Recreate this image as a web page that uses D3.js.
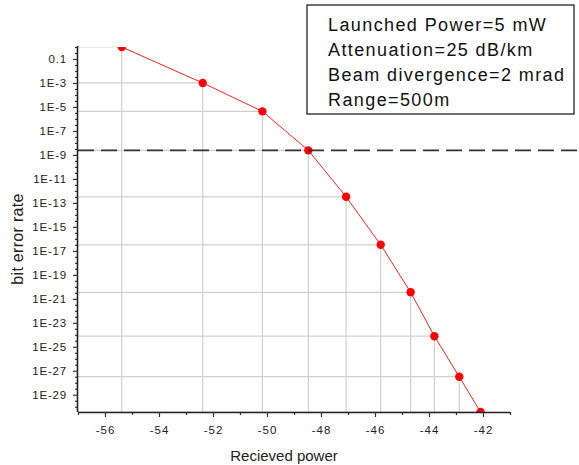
<!DOCTYPE html>
<html><head><meta charset="utf-8">
<script src="https://cdn.jsdelivr.net/npm/d3@7"></script>
<style>body{margin:0;background:#fff}svg{display:block}text{font-family:"Liberation Sans",Arial,sans-serif}</style>
</head><body>
<svg id="c" width="579" height="465"></svg>
<script>
const receivedPower = [-55.38, -52.38, -50.17, -48.47, -47.07, -45.79, -44.68, -43.8, -42.88, -42.09];
const bitErrorRate = [1, 1e-3, 4.3e-6, 2.4e-9, 3.2e-13, 3.2e-17, 3.5e-21, 7.6e-25, 3.2e-28, 3.6e-31];
const thresholdBER = 2.4e-9;
const xTickValues = [-56, -54, -52, -50, -48, -46, -44, -42];
const yTickExponents = [-1, -3, -5, -7, -9, -11, -13, -15, -17, -19, -21, -23, -25, -27, -29];
const legendLines = ["Launched Power=5 mW", "Attenuation=25 dB/km", "Beam divergence=2 mrad", "Range=500m"];
const xTitle = "Recieved power", yTitle = "bit error rate";

const svg = d3.select("#c");
const L = 78, R = 510, T = 47, B = 412;
const x = d3.scaleLinear().domain([-57, -41]).range([L, R]);
const y = d3.scaleLog().domain([1, Math.pow(10, -30.44)]).range([T, B]);

svg.append("defs").append("clipPath").attr("id", "clip")
  .append("rect").attr("x", L).attr("y", T).attr("width", R - L).attr("height", B - T);

const data = receivedPower.map((p, i) => ({p, b: bitErrorRate[i]}));

// drop lines
const g = svg.append("g").attr("clip-path", "url(#clip)");
g.selectAll(".hd").data(data).enter().append("line")
  .attr("x1", L).attr("x2", d => x(d.p)).attr("y1", d => y(d.b)).attr("y2", d => y(d.b))
  .attr("stroke", "#cfcfcf").attr("stroke-width", 1.2);
g.selectAll(".vd").data(data).enter().append("line")
  .attr("x1", d => x(d.p)).attr("x2", d => x(d.p)).attr("y1", d => y(d.b)).attr("y2", B)
  .attr("stroke", "#cfcfcf").attr("stroke-width", 1.2);

// threshold dashed line
svg.append("line").attr("x1", L).attr("x2", 579).attr("y1", y(thresholdBER)).attr("y2", y(thresholdBER))
  .attr("stroke", "#333").attr("stroke-width", 1.6).attr("stroke-dasharray", "16,7");

// x axis
const xMinor = d3.range(-57, -40, 1).filter(v => xTickValues.indexOf(v) < 0);
const xAx = svg.append("g").attr("transform", `translate(0,${B})`);
xAx.call(d3.axisBottom(x).tickValues(xMinor).tickSize(3).tickFormat(""));
xAx.call(g2 => g2.selectAll(".domain").remove());
const xAxMaj = svg.append("g").attr("transform", `translate(0,${B})`)
  .call(d3.axisBottom(x).tickValues(xTickValues).tickSize(5).tickPadding(9).tickFormat(d => d));
xAxMaj.select(".domain").attr("d", `M${L},0.5H${R}`).attr("stroke", "#222").attr("stroke-width", 1.6);
xAxMaj.selectAll(".tick text").attr("font-size", 11.5).attr("fill", "#222").attr("letter-spacing", "1px");

// y axis
const yMinorVals = d3.range(0, -30.5, -0.5).filter(e => yTickExponents.indexOf(e) < 0).map(e => Math.pow(10, e));
const yAx = svg.append("g").attr("transform", `translate(${L},0)`);
yAx.call(d3.axisLeft(y).tickValues(yMinorVals).tickSize(3).tickFormat(""));
yAx.select(".domain").remove();
const yAxMaj = svg.append("g").attr("transform", `translate(${L},0)`)
  .call(d3.axisLeft(y).tickValues(yTickExponents.map(e => Math.pow(10, e))).tickSize(5).tickPadding(6)
    .tickFormat(d => { const e = Math.round(Math.log10(d)); return e === -1 ? "0.1" : "1E" + e; }));
yAxMaj.select(".domain").attr("d", `M-0.5,${T - 1}V${B}`).attr("stroke", "#222").attr("stroke-width", 1.6);
yAxMaj.selectAll(".tick text").attr("font-size", 11.5).attr("fill", "#222").attr("letter-spacing", "0.8px");
svg.selectAll(".tick line").attr("stroke", "#333").attr("stroke-width", 1.2);

// line and markers
const line = d3.line().x(d => x(d.p)).y(d => y(d.b));
g.append("path").datum(data).attr("d", line).attr("fill", "none").attr("stroke", "#ff2020").attr("stroke-width", 1);
g.selectAll("circle").data(data).enter().append("circle")
  .attr("cx", d => x(d.p)).attr("cy", d => y(d.b)).attr("r", 4.2).attr("fill", "#ff0000");

// titles
svg.append("text").attr("x", 284).attr("y", 461).attr("text-anchor", "middle").attr("font-size", 15).attr("fill", "#222").text(xTitle);
svg.append("text").attr("transform", "translate(23,239) rotate(-90)").attr("text-anchor", "middle").attr("font-size", 16).attr("letter-spacing", "0.3px").attr("fill", "#222").text(yTitle);

// legend box
svg.append("rect").attr("x", 307).attr("y", 5).attr("width", 267).attr("height", 109)
  .attr("fill", "#fff").attr("stroke", "#222").attr("stroke-width", 1.3);
svg.selectAll(".lg").data(legendLines).enter().append("text")
  .attr("x", 328).attr("y", (d, i) => 31 + i * 25).attr("font-size", 18).attr("letter-spacing", "1.4px").attr("fill", "#111").text(d => d);
</script>
</body></html>
